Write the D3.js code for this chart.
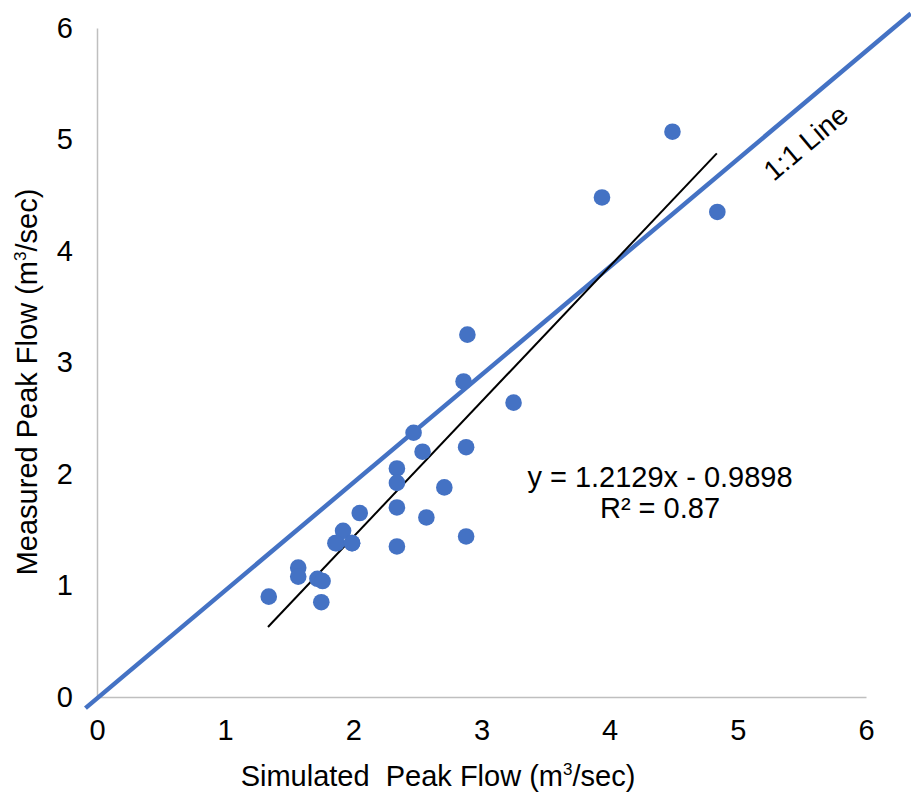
<!DOCTYPE html>
<html>
<head>
<meta charset="utf-8">
<script src="https://cdn.jsdelivr.net/npm/d3@7"></script>
<style>
  html, body { margin: 0; padding: 0; background: #fff; }
  svg text { font-family: "Liberation Sans", Arial, sans-serif; fill: #000; }
</style>
</head>
<body>
<div id="chart"></div>
<script>
'use strict';

// simulated (x) vs measured (y) peak flow, m3/sec
var simulated = [1.34, 1.57, 1.57, 1.72, 1.76, 1.75, 1.87, 1.99,
                 1.92, 1.86, 1.99, 2.05, 2.34, 2.34, 2.34, 2.34,
                 2.47, 2.54, 2.57, 2.71, 2.86, 2.88, 2.88, 2.89,
                 3.25, 3.94, 4.49, 4.84];
var measured  = [0.90, 1.16, 1.08, 1.06, 1.04, 0.85, 1.38, 1.38,
                 1.49, 1.38, 1.38, 1.65, 2.05, 1.92, 1.70, 1.35,
                 2.37, 2.20, 1.61, 1.88, 2.83, 2.24, 1.44, 3.25,
                 2.64, 4.48, 5.07, 4.35];

var xTicks = [0, 1, 2, 3, 4, 5, 6];
var yTicks = [0, 1, 2, 3, 4, 5, 6];

// 1:1 reference line, drawn past the plot edges
var refLineX = [-0.09, 6.35];
var refLineY = [-0.10, 6.13];

// linear trendline
var trendSlope = 1.2129,
    trendIntercept = -0.9898,
    trendRange = [1.334, 4.836];
var trendLabel = 'y = 1.2129x - 0.9898',
    r2Label = 'R\u00b2 = 0.87';

(function () {
  var width = 911,
      height = 793,
      blue = '#4472c4',
      grey = '#bfbfbf',
      fontSize = 29;

  var x = d3.scaleLinear().domain([0, 6]).range([97, 866]);
  var y = d3.scaleLinear().domain([0, 6]).range([697, 28]);

  var svg = d3.select('#chart').append('svg')
      .attr('width', width)
      .attr('height', height);

  // axes
  var xAxis = svg.append('g')
      .attr('transform', 'translate(0,' + y(0) + ')')
      .call(d3.axisBottom(x).tickValues(xTicks).tickSize(0).tickPadding(22)
        .tickFormat(d3.format('d')));
  var yAxis = svg.append('g')
      .attr('transform', 'translate(' + x(0) + ',0)')
      .call(d3.axisLeft(y).tickValues(yTicks).tickSize(0).tickPadding(24)
        .tickFormat(d3.format('d')));

  [xAxis, yAxis].forEach(function (g) {
    g.select('.domain').attr('stroke', grey).attr('stroke-width', 1.5);
    g.selectAll('.tick text')
        .style('font-family', '"Liberation Sans", Arial, sans-serif')
        .style('font-size', fontSize + 'px')
        .attr('fill', '#000');
  });

  // 1:1 line
  var line = d3.line()
      .x(function(d) { return x(d[0]); })
      .y(function(d) { return y(d[1]); });

  svg.append('path')
      .datum(d3.zip(refLineX, refLineY))
      .attr('d', line)
      .attr('fill', 'none')
      .attr('stroke', blue)
      .attr('stroke-width', 4.5);

  // trendline
  svg.append('path')
      .datum(trendRange.map(function(v) { return [v, trendSlope * v + trendIntercept]; }))
      .attr('d', line)
      .attr('fill', 'none')
      .attr('stroke', '#000')
      .attr('stroke-width', 2);

  // points
  svg.selectAll('.pt')
      .data(d3.zip(simulated, measured))
    .enter().append('circle')
      .attr('class', 'pt')
      .attr('cx', function(d) { return x(d[0]); })
      .attr('cy', function(d) { return y(d[1]); })
      .attr('r', 8.3)
      .attr('fill', blue);

  // axis titles
  var xt = svg.append('text')
      .attr('x', 438)
      .attr('y', 786)
      .attr('text-anchor', 'middle')
      .style('white-space', 'pre')
      .style('font-size', fontSize + 'px');
  xt.append('tspan').text('Simulated  Peak Flow (m');
  xt.append('tspan').attr('dy', -11).style('font-size', '17px').text('3');
  xt.append('tspan').attr('dy', 11).text('/sec)');

  var yt = svg.append('text')
      .attr('transform', 'translate(37,382) rotate(-90)')
      .attr('text-anchor', 'middle')
      .style('font-size', fontSize + 'px');
  yt.append('tspan').text('Measured Peak Flow (m');
  yt.append('tspan').attr('dy', -11).style('font-size', '17px').text('3');
  yt.append('tspan').attr('dy', 11).text('/sec)');

  // trendline labels
  svg.append('text')
      .attr('x', 660)
      .attr('y', 487)
      .attr('text-anchor', 'middle')
      .style('font-size', fontSize + 'px')
      .text(trendLabel);
  svg.append('text')
      .attr('x', 660)
      .attr('y', 518)
      .attr('text-anchor', 'middle')
      .style('font-size', fontSize + 'px')
      .text(r2Label);

  // 1:1 label
  svg.append('text')
      .attr('transform', 'translate(812,150) rotate(-40)')
      .attr('text-anchor', 'middle')
      .style('font-size', '28px')
      .text('1:1 Line');
})();
</script>
</body>
</html>
